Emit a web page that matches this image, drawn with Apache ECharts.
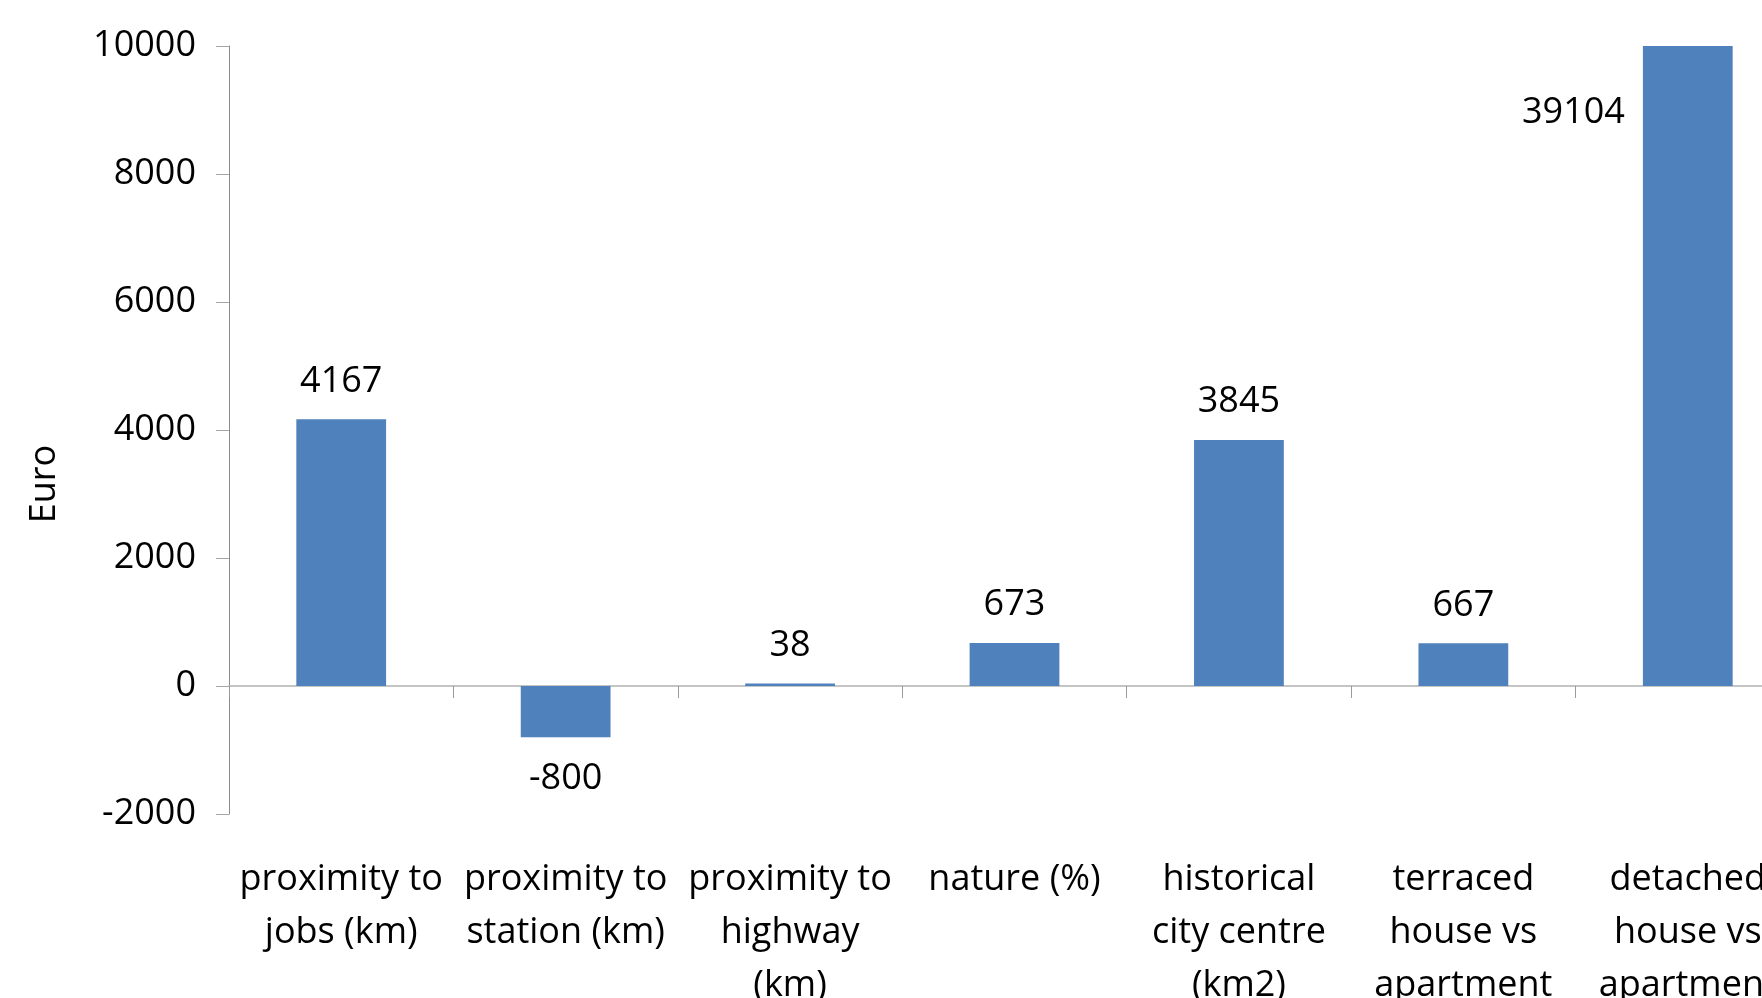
<!DOCTYPE html>
<html>
<head>
<meta charset="utf-8">
<style>
  html, body { margin: 0; padding: 0; background: #ffffff; }
  #chart { width: 1762px; height: 998px; }
</style>
<script src="https://cdn.jsdelivr.net/npm/echarts@6/dist/echarts.min.js"></script>
</head>
<body>
<div id="chart"></div>
<script>
const categories = [
  'proximity to\njobs (km)',
  'proximity to\nstation (km)',
  'proximity to\nhighway\n(km)',
  'nature (%)',
  'historical\ncity centre\n(km2)',
  'terraced\nhouse vs\napartment',
  'detached\nhouse vs\napartment'
];
const values = [4167, -800, 38, 673, 3845, 667, 39104];
const yTicks = { min: -2000, max: 10000, interval: 2000 };
const yAxisTitle = 'Euro';

const FONT = '"Open Sans", "Noto Sans", sans-serif';
const BAR_COLOR = '#4F81BD';

const seriesData = values.map(function (v) {
  const clipped = v > yTicks.max;
  const item = { value: clipped ? yTicks.max : v };
  if (clipped) {
    item.label = { position: [-18, 67], align: 'right', verticalAlign: 'middle' };
  } else if (v < 0) {
    item.label = { position: 'bottom', distance: 24 };
  }
  return item;
});

const chart = echarts.init(document.getElementById('chart'));
chart.setOption({
  backgroundColor: '#ffffff',
  animation: false,
  grid: {
    left: 229, top: 46, bottom: 184, right: -38,
    containLabel: false,
    outerBoundsMode: 'none'
  },
  xAxis: {
    type: 'category',
    data: categories,
    axisLine: { onZero: true, lineStyle: { color: '#B3B3B3', width: 1.5 } },
    axisTick: { show: true, length: 12, lineStyle: { color: '#9A9A9A' } },
    axisLabel: {
      interval: 0,
      margin: 39,
      fontSize: 36,
      lineHeight: 53,
      color: '#000000',
      fontFamily: FONT,
      hideOverlap: false
    },
    splitLine: { show: false }
  },
  yAxis: {
    type: 'value',
    min: yTicks.min,
    max: yTicks.max,
    interval: yTicks.interval,
    axisLine: { show: true, lineStyle: { color: '#8C8C8C' } },
    axisTick: { show: true, length: 13, lineStyle: { color: '#A6A6A6' } },
    axisLabel: {
      fontSize: 36, color: '#000000', fontFamily: FONT, margin: 33,
      formatter: function (v) { return String(v); }
    },
    splitLine: { show: false }
  },
  graphic: [{
    type: 'text',
    x: 45,
    y: 484,
    rotation: Math.PI / 2,
    style: {
      text: yAxisTitle,
      fill: '#000000',
      font: '36px ' + FONT,
      align: 'center',
      verticalAlign: 'middle',
      textAlign: 'center',
      textVerticalAlign: 'middle'
    }
  }],
  series: [{
    type: 'bar',
    data: seriesData,
    barWidth: '40%',
    itemStyle: { color: BAR_COLOR },
    label: {
      show: true,
      position: 'top',
      distance: 20,
      fontSize: 36,
      color: '#000000',
      fontFamily: FONT,
      formatter: function (p) { return String(values[p.dataIndex]); }
    }
  }]
});
</script>
</body>
</html>
